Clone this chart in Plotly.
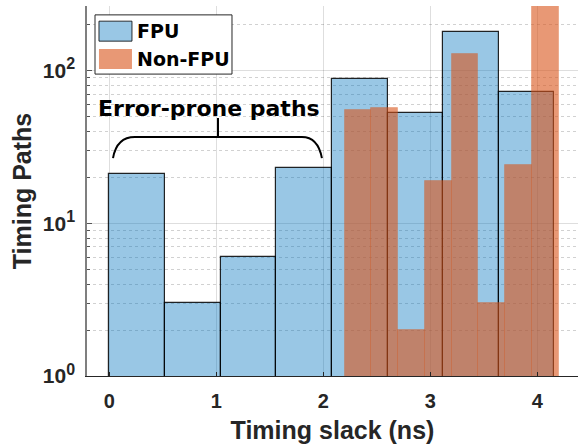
import plotly.graph_objects as go

# ---- data ----
fpu_edges = [0.0, 0.52, 1.04, 1.56, 2.08, 2.60, 3.12, 3.64, 4.16]
fpu_counts = [21, 3, 6, 23, 88, 53, 180, 72]
nonfpu_edges = [2.20, 2.45, 2.70, 2.95, 3.20, 3.45, 3.70, 3.95, 4.20]
nonfpu_counts = [55, 57, 2, 19, 128, 3, 24, 400]
x_ticks = [0, 1, 2, 3, 4]
x_ticktext = ["0", "1", "2", "3", "4"]
y_ticks = [1, 10, 100]
y_exponents = ["0", "1", "2"]
series_names = ["FPU", "Non-FPU"]

def centers(edges):
    return [(a + b) / 2 for a, b in zip(edges[:-1], edges[1:])]

def widths(edges):
    return [b - a for a, b in zip(edges[:-1], edges[1:])]

FPU_FILL = "rgba(0,114,189,0.4)"
NON_FILL = "rgba(217,83,25,0.6)"
TXT = "#262626"

y_ticktext = ["<b>10<sup><span style='font-size:16px'>%s</span></sup></b>" % e for e in y_exponents]

fig = go.Figure()
fig.add_trace(go.Bar(
    x=centers(fpu_edges), y=fpu_counts, width=widths(fpu_edges),
    name=series_names[0], marker=dict(color=FPU_FILL, line=dict(color="rgba(0,0,0,0.85)", width=1.2)),
    showlegend=False,
))
fig.add_trace(go.Bar(
    x=centers(nonfpu_edges), y=nonfpu_counts, width=widths(nonfpu_edges),
    name=series_names[1], marker=dict(color=NON_FILL, line=dict(color="rgba(217,83,25,0.25)", width=1)),
    showlegend=False,
))

minor_vals = [m * 10 ** d for d in range(0, 3) for m in range(2, 10)]

fig.update_layout(
    width=578, height=448,
    margin=dict(l=87, r=0, t=6, b=72),
    paper_bgcolor="white", plot_bgcolor="white",
    barmode="overlay", bargap=0,
    font=dict(family="Liberation Sans", color=TXT),
    xaxis=dict(
        range=[-0.208, 4.38], tickvals=x_ticks, ticktext=["<b>%s</b>" % t for t in x_ticktext],
        ticks="inside", ticklen=4, ticklabelstandoff=7,
        tickcolor=TXT, showline=True, linecolor=TXT, linewidth=1.2,
        showgrid=True, gridcolor="rgba(0,0,0,0.13)", gridwidth=1,
        zeroline=False, layer="above traces",
        tickfont=dict(family="Liberation Sans", size=20, color=TXT),
        title=dict(text="<b>Timing slack (ns)</b>", standoff=10,
                   font=dict(family="Liberation Sans", size=25, color=TXT)),
    ),
    yaxis=dict(
        type="log", range=[0, 2.423], tickvals=y_ticks, ticktext=y_ticktext,
        ticks="inside", ticklen=5, tickcolor="#555555", ticklabelstandoff=6,
        showline=True, linecolor="#7f7f7f", linewidth=1.5,
        showgrid=True, gridcolor="rgba(0,0,0,0.13)", gridwidth=1,
        zeroline=False, layer="above traces",
        minor=dict(tickvals=minor_vals, ticks="inside", ticklen=3, tickcolor="#555555",
                   showgrid=True, gridcolor="rgba(0,0,0,0.18)", griddash="dot", gridwidth=1),
        tickfont=dict(family="Liberation Sans", size=21, color=TXT),
        title=dict(text="<b>Timing Paths</b>", standoff=4,
                   font=dict(family="Liberation Sans", size=25, color=TXT)),
    ),
)

# brace over error-prone paths
brace = ("M 0.035,0.589 Q 0.07,0.646 0.24,0.646 L 1.80,0.646 Q 1.95,0.646 1.987,0.589 "
         "M 1.016,0.646 L 1.016,0.697")
fig.add_shape(type="path", path=brace, xref="x", yref="paper",
              line=dict(color="black", width=2))
fig.add_annotation(x=0.93, y=0.724, xref="x", yref="paper", text="<b>Error-prone paths</b>",
                   showarrow=False, xanchor="center", yanchor="middle",
                   font=dict(family="DejaVu Sans", size=22, color="black"))

# custom legend (box + patches + labels)
fig.add_shape(type="rect", xref="paper", yref="paper", x0=0.0163, x1=0.2953, y0=0.816, y1=0.976,
              line=dict(color="#262626", width=1), fillcolor="white", layer="above")
fig.add_shape(type="rect", xref="paper", yref="paper", x0=0.0244, x1=0.0916, y0=0.905, y1=0.959,
              line=dict(color="rgba(0,0,0,0.8)", width=1), fillcolor=FPU_FILL, layer="above")
fig.add_shape(type="rect", xref="paper", yref="paper", x0=0.0244, x1=0.0916, y0=0.830, y1=0.884,
              line=dict(width=0), fillcolor=NON_FILL, layer="above")
for name, yy in zip(series_names, [0.932, 0.857]):
    fig.add_annotation(x=0.0978, y=yy, xref="paper", yref="paper", text="<b>%s</b>" % name,
                       showarrow=False, xanchor="left", yanchor="middle",
                       font=dict(family="DejaVu Sans", size=19, color="black"))

fig.write_html("out.html")
